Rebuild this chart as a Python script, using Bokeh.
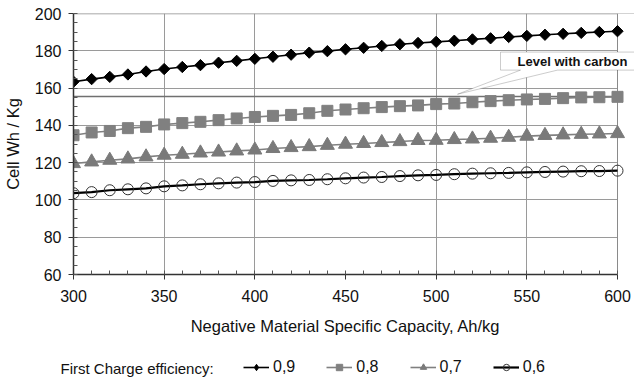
import math
from bokeh.plotting import figure
from bokeh.layouts import column
from bokeh.models import (Range1d, FixedTicker, Span, Label, Legend, LegendItem,
                          PolyAnnotation, ColumnDataSource, BoxAnnotation)
from bokeh.embed import file_html
from bokeh.resources import INLINE

# ---------------- data ----------------
capacity = [300, 310, 320, 330, 340, 350, 360, 370, 380, 390, 400,
            410, 420, 430, 440, 450, 460, 470, 480, 490, 500,
            510, 520, 530, 540, 550, 560, 570, 580, 590, 600]

eff_09 = [163.4, 164.8, 166.0, 167.3, 168.9, 170.2, 171.3, 172.3, 173.6, 174.6, 175.7,
          176.8, 177.9, 179.0, 179.8, 180.8, 181.6, 182.6, 183.5, 184.2, 184.8,
          185.4, 186.1, 186.7, 187.4, 188.0, 188.6, 189.1, 189.6, 190.1, 190.5]
eff_08 = [134.7, 136.2, 137.0, 138.5, 139.2, 140.5, 141.2, 141.9, 142.8, 143.7, 144.5,
          145.1, 145.6, 146.5, 147.8, 148.5, 149.2, 149.8, 150.3, 150.7, 151.4,
          151.7, 152.4, 153.0, 153.5, 153.9, 154.2, 154.6, 155.0, 155.1, 155.3]
eff_07 = [119.5, 120.4, 121.3, 122.0, 123.1, 124.0, 124.5, 125.2, 125.7, 126.3, 126.8,
          127.6, 128.1, 128.6, 129.3, 129.9, 130.3, 130.8, 131.3, 131.9, 132.0,
          132.4, 132.7, 133.1, 133.6, 134.2, 134.6, 134.9, 135.2, 135.4, 135.6]
eff_06 = [103.6, 104.2, 105.2, 105.7, 106.2, 107.3, 107.8, 108.4, 108.9, 109.3, 109.6,
          110.2, 110.5, 110.7, 111.1, 111.6, 112.0, 112.3, 112.8, 113.2, 113.4,
          113.8, 114.1, 114.3, 114.5, 114.8, 115.0, 115.2, 115.4, 115.5, 115.7]

series_labels = ["0,9", "0,8", "0,7", "0,6"]
level_with_carbon = 155.5
legend_title = "First Charge efficiency:"
x_title = "Negative Material Specific Capacity, Ah/kg"
y_title = "Cell Wh / Kg"

x_ticks = [300, 350, 400, 450, 500, 550, 600]
x_grid_ticks = [350, 400, 500, 550]
y_ticks = [60, 80, 100, 120, 140, 160, 180, 200]

FONT = "Liberation Sans"
W = 634
MAIN_H = 310
FOOT_H = 384 - MAIN_H
X0, X1 = 300, 600
PX_PER_X = 544 / 300.0          # screen pixels per Ah/kg
FRAME_LEFT = 73
X_END = X0 + (W - FRAME_LEFT) / PX_PER_X   # frame runs to the canvas edge

# ---------------- main figure ----------------
p = figure(width=W, height=MAIN_H, output_backend="svg", toolbar_location=None,
           x_range=Range1d(X0, X_END), y_range=Range1d(60, 200),
           min_border_left=FRAME_LEFT, min_border_right=0, min_border_top=13,
           min_border_bottom=MAIN_H - 274, background_fill_color="white",
           border_fill_color="white")
p.outline_line_color = None
p.frame_align = False

p.xaxis.ticker = FixedTicker(ticks=x_ticks, minor_ticks=list(range(300, 601, 10)))
p.yaxis.ticker = FixedTicker(ticks=y_ticks, minor_ticks=list(range(60, 201, 5)))
p.xaxis.bounds = (X0, X1)
p.xgrid.ticker = FixedTicker(ticks=x_grid_ticks)
p.ygrid.ticker = FixedTicker(ticks=y_ticks)
for g in (p.xgrid, p.ygrid):
    g.grid_line_color = "#9a9a9a"
    g.grid_line_width = 1

for ax in (p.xaxis, p.yaxis):
    ax.axis_line_color = "#333333"
    ax.axis_line_width = 1.5
    ax.major_tick_line_color = "#333333"
    ax.minor_tick_line_color = "#555555"
    ax.major_tick_in = 0
    ax.major_tick_out = 5
    ax.minor_tick_in = 4
    ax.minor_tick_out = 0
    ax.major_label_text_font = FONT
    ax.major_label_text_font_size = "16px"
    ax.major_label_text_color = "#111111"
    ax.axis_label_text_font = FONT
    ax.axis_label_text_font_size = "16.5px"
    ax.axis_label_text_font_style = "normal"
    ax.axis_label_text_color = "#111111"

p.yaxis.axis_label = y_title
p.xaxis.major_label_standoff = 10
p.yaxis.major_label_standoff = 7
p.yaxis.axis_label_standoff = 10

# level with carbon line and frame borders
p.add_layout(Span(location=level_with_carbon, dimension="width",
                  line_color="#707070", line_width=1.6, level="underlay"))
p.add_layout(Span(location=200, dimension="width",
                  line_color="#8a8a8a", line_width=1.5, level="underlay"))
# blank strip right of the plot area
p.add_layout(BoxAnnotation(left=X1, fill_color="white", fill_alpha=1,
                           line_alpha=0, level="underlay"))
p.add_layout(Span(location=X1, dimension="height",
                  line_color="#8a8a8a", line_width=1, level="underlay"))

# ---------------- series ----------------
src = ColumnDataSource(dict(x=capacity, a=eff_09, b=eff_08, c=eff_07, d=eff_06))

line_styles = [
    dict(line_color="black", line_width=1.6),
    dict(line_color="#808080", line_width=1.6),
    dict(line_color="#808080", line_width=1.6),
    dict(line_color="black", line_width=2.2),
]
marker_styles = [
    dict(marker="square", angle=math.pi / 4, size=8, fill_color="black", line_color="black"),
    dict(marker="square", size=11, fill_color="#808080", line_color="#808080"),
    dict(marker="triangle", size=14, fill_color="#7a7a7a", line_color="#7a7a7a"),
    dict(marker="circle", size=11, fill_alpha=0, line_color="#333333", line_width=1),
]
legend_marker_styles = [
    dict(marker="diamond", size=12, fill_color="black", line_color="black"),
    dict(marker="square", size=11, fill_color="#808080", line_color="#808080"),
    dict(marker="triangle", size=14, fill_color="#7a7a7a", line_color="#7a7a7a"),
    dict(marker="circle", size=11, fill_alpha=0, line_color="#333333", line_width=1),
]
cols = ["a", "b", "c", "d"]
for col, ls, ms in zip(cols, line_styles, marker_styles):
    p.line("x", col, source=src, **ls)
    p.scatter("x", col, source=src, **ms)

# ---------------- callout ----------------
def px2x(px):
    return X0 + (px - FRAME_LEFT) / PX_PER_X

def py2y(py):
    return 200 - (py - 13.5) / 1.861

callout = PolyAnnotation(
    xs=[px2x(500), px2x(650), px2x(650), px2x(557), px2x(457), px2x(520), px2x(500)],
    ys=[py2y(52), py2y(52), py2y(70), py2y(70), level_with_carbon + 1.2, py2y(70), py2y(70)],
    fill_color="white", fill_alpha=1, line_color="#555555", line_width=1)
p.add_layout(callout)
p.add_layout(Label(x=px2x(572), y=py2y(61.5), text="Level with carbon",
                   text_align="center", text_baseline="middle",
                   text_font=FONT, text_font_size="13px", text_font_style="bold",
                   text_color="#111111"))

# ---------------- footer: x title + legend ----------------
f = figure(width=W, height=FOOT_H, output_backend="svg", toolbar_location=None,
           x_range=Range1d(0, W), y_range=Range1d(0, FOOT_H),
           x_axis_type=None, y_axis_type=None, min_border=0,
           min_border_left=0, min_border_right=0, min_border_top=0, min_border_bottom=0,
           background_fill_color="white", border_fill_color="white")
f.outline_line_color = None
f.grid.visible = False
f.frame_align = False

f.add_layout(Label(x=345, y=FOOT_H - (325 - MAIN_H), text=x_title,
                   text_align="center", text_baseline="middle",
                   text_font=FONT, text_font_size="16.5px", text_color="#111111"))
f.add_layout(Label(x=60, y=FOOT_H - (368 - MAIN_H), text=legend_title,
                   text_align="left", text_baseline="middle",
                   text_font=FONT, text_font_size="15px", text_color="#111111"))

# legend renderers share the data (which lies outside this strip's range)
items = []
for lab, col, ls, ms in zip(series_labels, cols, line_styles, legend_marker_styles):
    r1 = f.line("x", col, source=src, **ls)
    r2 = f.scatter("x", col, source=src, **ms)
    items.append(LegendItem(label=lab, renderers=[r1, r2]))
legend = Legend(items=items, orientation="horizontal",
                location=(243, FOOT_H - (368 - MAIN_H) - 8),
                glyph_width=26, glyph_height=16, label_standoff=4, spacing=31,
                padding=0, margin=0, border_line_alpha=0, background_fill_alpha=0,
                label_text_font=FONT, label_text_font_size="16px",
                label_text_color="#111111")
f.add_layout(legend)

layout = column(p, f, spacing=0)
open("out.html", "w").write(file_html(layout, INLINE))
